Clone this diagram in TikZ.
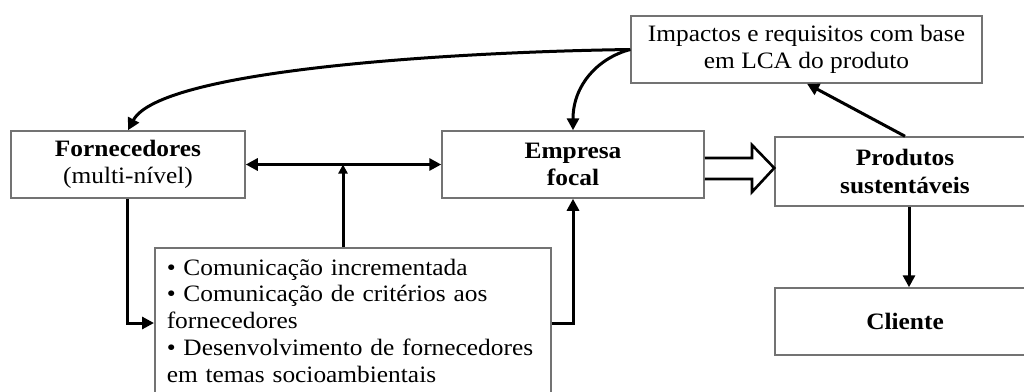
\documentclass[tikz,border=0pt]{standalone}
\usepackage{fontspec}
\setmainfont{Liberation Serif}[FakeStretch=1.08]
\usetikzlibrary{arrows.meta}
\begin{document}
\begin{tikzpicture}[x=1pt,y=-1pt,
  box/.style={draw=black!55, line width=1.5pt, fill=white, align=center, inner sep=0pt,
    font=\fontsize{23.5}{27.5}\selectfont},
  conn/.style={line width=3pt, black, -{Triangle[length=12pt,width=12pt]}},
  blockarrow/.style={line width=2.6pt, black, fill=white, line join=miter}]
\useasboundingbox (0,0) rectangle (1024,391);
\clip (0,0) rectangle (1024,391);
\node[box, minimum width=234, minimum height=67] (forn) at (128,164.5) {\textbf{Fornecedores}\\(multi-nível)};
\node[box, minimum width=262, minimum height=67] (emp) at (573,164.5) {\textbf{Empresa}\\\textbf{focal}};
\node[box, minimum width=351, minimum height=67] (imp) at (806.5,49.5) {Impactos e requisitos com base\\em LCA do produto};
\node[box, minimum width=260, minimum height=69] (prod) at (905,171.5) {\textbf{Produtos}\\\textbf{sustentáveis}};
\node[box, minimum width=260, minimum height=67] (cli) at (905,321.5) {\textbf{Cliente}};
\node[box, anchor=north west, align=left, text width=372, inner xsep=12, inner ysep=11,
  font=\fontsize{23.5}{26.8}\selectfont] (bul) at (154,247)
 {• Comunicação incrementada\\• Comunicação de critérios aos\\fornecedores\\• Desenvolvimento de fornecedores\\em temas socioambientais};
% connectors
\draw[conn, {Triangle[length=12pt,width=12pt]}-{Triangle[length=12pt,width=12pt]}] (forn.east) -- (emp.west);
\draw[conn, -{Triangle[length=9pt,width=9pt]}] (343,0 |- bul.north) -- (343,0 |- emp.west);
\draw[conn] (127,0 |- forn.south) -- (127,323) -- (bul.west |- 0,323);
\draw[conn] (bul.east |- 0,323) -- (573,323) -- (573,0 |- emp.south);
\draw[conn] (imp.west) .. controls (450,52) and (160,70) .. (128,0 |- forn.north);
\draw[conn] (imp.west) .. controls (598,58) and (573,85) .. (emp.north);
\draw[conn] (prod.north) -- (807,0 |- imp.south);
\draw[conn] (909,0 |- prod.south) -- (909,0 |- cli.north);
\draw[blockarrow] (emp.east |- 0,158) -- (752,158) -- (752,145) -- (prod.west |- 0,168) -- (752,192) -- (752,179) -- (emp.east |- 0,179);
\end{tikzpicture}
\end{document}
